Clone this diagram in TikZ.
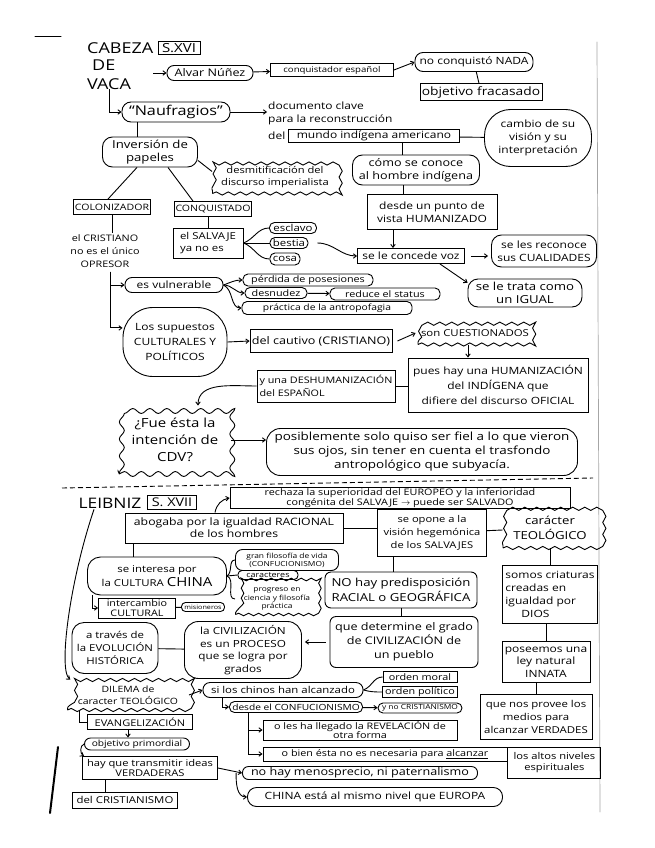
\documentclass[tikz,border=0pt]{standalone}
\usepackage{fontspec}
\setmainfont{Open Sans}[FakeStretch=1.2]
\usetikzlibrary{positioning,calc}
\usetikzlibrary{arrows.meta,decorations.pathmorphing}
\newcommand\hw[2]{\fontsize{#1}{#2}\selectfont}
\tikzset{
	box/.style={draw,rectangle,line width=0.9pt,inner sep=1pt,align=center,font=\hw{9}{11}},
	rbox/.style={box,rounded corners=6pt},
	wavy/.style={box,decorate,decoration={snake,amplitude=1.6pt,segment length=12pt}},
	txt/.style={inner sep=1pt,align=center,font=\hw{9}{11}},
	sz/.style n args={2}{minimum width=#1pt,minimum height=#2pt},
	link/.style={line width=0.9pt},
	arr/.style={link,-{Straight Barb[length=3pt,width=4.5pt]}},
	scan/.style={line cap=round},
}

\begin{document}
\begin{tikzpicture}[x=1pt,y=-1pt]
	\useasboundingbox[fill=white] (0,0) rectangle (655,848);
	% bordes de la hoja
	\draw[scan,line width=1pt] (35,37) -- (61,37);
	\draw[scan,gray!70,line width=0.7pt] (597,42) -- (600,812);
	\draw[scan,line width=2pt] (58,747) -- (50,813);

	% ---- Cabeza de Vaca ----
	\node[txt,font=\hw{15}{17},align=left,anchor=north west,inner sep=0pt] (cdv) at (87,42) {CABEZA\\\hspace*{5pt}DE\\[2pt]VACA};
	\node[box,font=\hw{12.5}{13},sz={42}{13}] (s16) at (179,48) {S.XVI};
	\node[rbox,font=\hw{10.5}{12},sz={86}{15},rounded corners=7pt] (alvar) at (210,73) {Alvar Núñez};
	\node[box,font=\hw{8}{9},sz={123}{13}] (conq) at (332,70) {conquistador español};
	\node[rbox,font=\hw{10}{12},sz={118}{19},rounded corners=8pt] (nada) at (474,62) {no conquistó NADA};
	\node[box,font=\hw{11.5}{13},sz={122}{17}] (fracaso) at (481,92) {objetivo fracasado};

	\node[rbox,font=\hw{13.5}{15},sz={108}{20},rounded corners=9pt] (nauf) at (176,112) {“Naufragios”};
	\node[txt,font=\hw{10}{12.5},align=left,anchor=north west] (doc) at (267,101) {documento clave\\para la reconstrucción};
	\node[txt,font=\hw{10}{12},anchor=west] (del) at (267,136) {del};
	\node[box,font=\hw{10}{11},sz={171}{13},anchor=west] (mundo) at (288,136) {mundo indígena americano};
	\node[rbox,font=\hw{10}{13},sz={107}{57},rounded corners=26pt] (cambio) at (538,138) {cambio de su\\visión y su\\interpretación};
	\node[rbox,font=\hw{10.5}{13},sz={127}{30},rounded corners=10pt] (conoce) at (416,170) {cómo se conoce\\al hombre indígena};
	\node[box,font=\hw{10}{13},sz={130}{35}] (humz) at (432,212) {desde un punto de\\vista HUMANIZADO};
	\node[box,font=\hw{10}{11},sz={107}{15}] (voz) at (411,256) {se le concede voz};
	\node[rbox,font=\hw{10}{12.5},sz={105}{32},rounded corners=10pt] (cualid) at (544,251) {se les reconoce\\sus CUALIDADES};
	\node[rbox,font=\hw{11}{12.5},sz={114}{28},rounded corners=10pt] (igual) at (525,293) {se le trata como\\un IGUAL};

	\node[rbox,font=\hw{11}{13},sz={95}{30},rounded corners=10pt] (invers) at (150,152) {Inversión de\\papeles};
	\node[wavy,font=\hw{9.3}{11.5},sz={125}{33}] (desmit) at (275,177) {desmitificación del\\discurso imperialista};
	\node[box,font=\hw{8.8}{9},sz={75}{15}] (colon) at (112,207) {COLONIZADOR};
	\node[box,font=\hw{8.8}{9},sz={77}{15}] (conqd) at (213,209) {CONQUISTADO};
	\node[txt,font=\hw{9}{13}] (cristiano) at (105,251) {el CRISTIANO\\no es el único\\OPRESOR};
	\node[box,align=left,font=\hw{9.5}{12},sz={70}{30}] (salv) at (208,243) {el SALVAJE\\ya no es};
	\node[rbox,font=\hw{9.5}{10},sz={47}{11},rounded corners=5pt] (esclavo) at (293,228) {esclavo};
	\node[rbox,font=\hw{9.5}{10},sz={38}{11},rounded corners=5pt] (bestia) at (289,243) {bestia};
	\node[rbox,font=\hw{9.5}{10},sz={30}{12},rounded corners=5pt] (cosa) at (285,259) {cosa};

	\node[rbox,font=\hw{10}{11},sz={98}{15},rounded corners=7pt] (vuln) at (174,285) {es vulnerable};
	\node[rbox,font=\hw{9}{10},sz={130}{12},rounded corners=5pt] (perdida) at (308,280) {pérdida de posesiones};
	\node[rbox,font=\hw{9}{10},sz={62}{11},rounded corners=5pt] (desnudez) at (276,293) {desnudez};
	\node[rbox,font=\hw{9}{10},sz={110}{12},rounded corners=5pt] (reduce) at (385,294) {reduce el status};
	\node[rbox,font=\hw{8.6}{10},sz={170}{13},rounded corners=5pt] (antrop) at (327,308) {práctica de la antropofagia};
	\node[rbox,font=\hw{10}{15},sz={104}{69},rounded corners=30pt] (sup) at (175,342) {Los supuestos\\CULTURALES Y\\POLÍTICOS};
	\node[box,font=\hw{10.5}{12},sz={142}{23}] (cautivo) at (321,341) {del cautivo (CRISTIANO)};
	\node[wavy,font=\hw{9.5}{11},sz={114}{23}] (cuest) at (475,333) {son CUESTIONADOS};
	\node[box,font=\hw{10}{15},sz={180}{54}] (humind) at (498,385) {pues hay una HUMANIZACIÓN\\del INDÍGENA que\\difiere del discurso OFICIAL};
	\node[box,align=left,font=\hw{9}{13},sz={138}{32}] (deshum) at (326,386) {y una DESHUMANIZACIÓN\\del ESPAÑOL};
	\node[wavy,font=\hw{12.5}{17},sz={112}{68},decoration={snake,amplitude=2.5pt,segment length=17pt}] (fue) at (175,440) {¿Fue ésta la\\intención de\\CDV?};
	\node[rbox,font=\hw{11.2}{14},sz={311}{47},rounded corners=14pt] (posib) at (422,452) {posiblemente solo quiso ser fiel a lo que vieron\\sus ojos, sin tener en cuenta el trasfondo\\antropológico que subyacía.};

	\draw[arr] (cdv.east |- alvar.west) -- (alvar.west);
	\draw[arr] (alvar) -- (conq);
	\draw[arr] (conq.east) -- (nada.west);
	\draw[link] (nada) -- (fracaso);
	\draw[arr] ([xshift=22pt]cdv.south west) |- (nauf.west);
	\draw[arr] (nauf.east) -- (doc.west |- nauf.east);
	\draw[link] (mundo) -- (cambio);
	\draw[link] ([xshift=28pt]mundo.south) -- ([xshift=28pt]mundo.south |- conoce.north);
	\draw[link] ([xshift=-13pt]conoce.south) -- ([xshift=-13pt]conoce.south |- humz.north);
	\draw[arr] ([xshift=-39pt]humz.south) -- ([xshift=-39pt]humz.south |- voz.north);
	\draw[arr] ([xshift=6pt]voz.east) -- ([xshift=-3pt]cualid.west |- voz.east);
	\draw[arr] ([xshift=-25pt]voz.south east) -- (igual.170);
	\draw[link] ([xshift=-13pt]invers.north) -- ([xshift=-13pt]invers.north |- nauf.south);
	\draw[link] (invers.-10) -- (desmit.175);
	\draw[link] ([xshift=-13pt]invers.south) -- ([xshift=-4pt]colon.north);
	\draw[link] ([xshift=18pt]invers.south) -- ([xshift=-20pt]conqd.north);
	\draw[link] (colon.south) -- (colon.south |- cristiano.north);
	\draw[link] ([xshift=-5pt]conqd.south) -- (salv.north);
	\draw[link] (salv.east) to[out=20,in=180] (esclavo.west);
	\draw[link] (salv.east) -- (bestia.west);
	\draw[link] (salv.east) to[out=-20,in=180] (cosa.west);
	\draw[arr] ([xshift=9pt]bestia.east) to[out=0,in=180] (voz.west);
	\coordinate (cr) at ([xshift=5pt,yshift=-3pt]cristiano.south);
	\draw[arr] (cr) |- (vuln.west);
	\draw[arr] (cr) |- (sup.165);
	\draw[arr] (vuln.east) to[out=20,in=180] (perdida.west);
	\draw[arr] (vuln.east) to[out=0,in=180] (desnudez.west);
	\draw[arr] (vuln.east) to[out=-25,in=180] (antrop.west);
	\draw[arr] (desnudez) -- (reduce);
	\draw[arr] (sup.east) -- (cautivo.west);
	\draw[arr] ([xshift=5pt]cautivo.east) -- ([xshift=-2pt]cuest.west);
	\draw[arr] ([xshift=-7pt]cuest.south) -- ([xshift=-7pt]cuest.south |- humind.north);
	\draw[link] (deshum.east) -- (humind.west |- deshum.east);
	\draw[arr] (deshum.west) to[out=180,in=90] ([xshift=23pt]fue.north);
	\draw[arr] (fue.east) -- (posib.west |- fue.east);

	\draw[link,dashed,dash pattern=on 5pt off 3pt] (62,488) -- (593,478);

	% ---- Leibniz ----
	\node[txt,font=\hw{14.5}{15}] (leib) at (110,503) {LEIBNIZ};
	\node[box,font=\hw{12}{13},sz={49}{14}] (s17) at (172,502) {S. XVII};
	\node[box,font=\hw{9}{10},sz={340}{20}] (rechaza) at (400,498) {rechaza la superioridad del EUROPEO y la inferioridad\\congénita del SALVAJE $\rightarrow$ puede ser SALVADO};
	\node[box,font=\hw{10.2}{12},sz={218}{30}] (abog) at (234,528) {abogaba por la igualdad RACIONAL\\de los hombres};
	\node[box,font=\hw{9.3}{13},sz={109}{47}] (opone) at (432,533) {se opone a la\\visión hegemónica\\de los SALVAJES};
	\node[wavy,font=\hw{11}{15},sz={94}{40}] (teol) at (550,528) {carácter\\TEOLÓGICO};
	\node[rbox,font=\hw{9.5}{14},sz={139}{38},rounded corners=13pt] (china) at (157,576) {se interesa por\\la CULTURA {\hw{12.5}{14}CHINA}};
	\node[rbox,font=\hw{7}{8},sz={103}{21},rounded corners=7pt] (filos) at (287,560) {gran filosofía de vida\\(CONFUCIONISMO)};
	\node[rbox,font=\hw{7.5}{8},sz={60}{9},rounded corners=4pt] (caract) at (268,575) {caracteres};
	\node[wavy,font=\hw{7}{8.5},sz={83}{31},decoration={snake,amplitude=1.3pt,segment length=10pt}] (progr) at (277,599) {progreso en\\ciencia y filosofía\\práctica};
	\node[box,font=\hw{9}{9.5},sz={77}{20}] (interc) at (137,608) {intercambio\\CULTURAL};
	\node[rbox,font=\hw{6}{7},sz={43}{9},rounded corners=4pt] (misio) at (203,607) {misioneros};
	\node[rbox,font=\hw{9.5}{13},sz={86}{51},rounded corners=12pt] (evol) at (115,648) {a través de\\la EVOLUCIÓN\\HISTÓRICA};
	\node[rbox,font=\hw{9.8}{12.5},sz={117}{57},rounded corners=14pt] (civil) at (243,650) {la CIVILIZACIÓN\\es un PROCESO\\que se logra por\\grados};
	\node[rbox,font=\hw{11}{15},sz={152}{36},rounded corners=6pt] (predisp) at (401,590) {NO hay predisposición\\RACIAL o GEOGRÁFICA};
	\node[rbox,font=\hw{10.5}{14},sz={148}{51},rounded corners=6pt] (determ) at (404,642) {que determine el grado\\de CIVILIZACIÓN de\\un pueblo};
	\node[box,font=\hw{10}{13},align=left,sz={95}{58}] (criat) at (550,594) {somos criaturas\\creadas en\\igualdad por\\\hspace*{16pt}DIOS};
	\node[box,font=\hw{10}{12.5},sz={88}{41}] (innata) at (546,662) {poseemos una\\ley natural\\INNATA};
	\node[box,font=\hw{9.5}{13},sz={112}{45}] (provee) at (536,717) {que nos provee los\\medios para\\alcanzar VERDADES};

	\node[wavy,font=\hw{8.7}{12},sz={121}{30}] (dilema) at (128,695) {DILEMA de\\caracter TEOLÓGICO};
	\node[rbox,font=\hw{9.5}{10},sz={160}{15},rounded corners=7pt] (chinos) at (283,690) {si los chinos han alcanzado};
	\node[box,font=\hw{9}{10},sz={74}{11}] (moral) at (420,677) {orden moral};
	\node[box,font=\hw{9}{10},sz={75}{11}] (polit) at (420,692) {orden político};
	\node[rbox,font=\hw{8.5}{9},sz={133}{11},rounded corners=5pt] (confu) at (296,707) {desde el CONFUCIONISMO};
	\node[rbox,font=\hw{7}{8},sz={84}{10},rounded corners=5pt] (nocrist) at (420,708) {y no CRISTIANISMO};
	\node[box,font=\hw{9}{9.5},sz={194}{20}] (revel) at (360,730) {o les ha llegado la REVELACIÓN de\\otra forma};
	\node[box,font=\hw{9}{10},sz={244}{14}] (obien) at (385,754) {o bien ésta no es necesaria para \underline{alcanzar}};
	\node[box,font=\hw{9.3}{11.5},sz={93}{31},anchor=north west] (altos) at (obien.north east) {los altos niveles\\espirituales};
	\node[box,font=\hw{9.2}{10},sz={105}{15}] (evang) at (140,722) {EVANGELIZACIÓN};
	\node[rbox,font=\hw{8.5}{9},sz={105}{12},rounded corners=6pt] (obj) at (137,744) {objetivo primordial};
	\node[box,font=\hw{9.3}{10.5},sz={135}{23}] (hay) at (150,768) {hay que transmitir ideas\\VERDADERAS};
	\node[box,font=\hw{9.5}{11},sz={105}{16}] (crist) at (125,800) {del CRISTIANISMO};
	\node[rbox,font=\hw{10.5}{11},sz={235}{13},rounded corners=6pt] (menos) at (360,773) {no hay menosprecio, ni paternalismo};
	\node[rbox,font=\hw{10}{12},sz={255}{19},rounded corners=9pt] (igeur) at (375,797) {CHINA está al mismo nivel que EUROPA};

	\draw[arr] ([xshift=-19pt]abog.north) to[out=80,in=190] (rechaza.west);
	\draw[link] (abog.east) -- (abog.east -| opone.west);
	\draw[link] (opone) -- (teol);
	\draw[link] ([xshift=-24pt]china.north) -- ([xshift=-24pt]china.north |- abog.south);
	\draw[link] (china.east) to[out=30,in=180] (filos.west);
	\draw[link] (china.east) -- (caract.west);
	\draw[link] (china.east) to[out=-20,in=180] (progr.west);
	\draw[arr] ([xshift=5pt]china.south west) |- (interc.west);
	\draw[link] (interc) -- (misio);
	\draw[link] (evol) -- (civil);
	\draw[arr] ([xshift=-4pt]determ.west) -- ([xshift=3pt]civil.east |- determ.west);
	\draw[link] ([xshift=-8pt]predisp.north) -- ([xshift=-8pt]predisp.north |- opone.south);
	\draw[link] (predisp.south) -- (predisp.south |- determ.north);
	\draw[link] (teol) -- (criat);
	\draw[link] (innata.north |- criat.south) -- (innata.north);
	\draw[link] (provee.north |- innata.south) -- (provee.north);
	\draw[arr] ([xshift=-16pt]leib.south) .. controls (70,580) and (58,670) .. (dilema.165);
	\draw[arr] (dilema.east) -- (chinos.west);
	\draw[link] (chinos.east) to[out=20,in=180] (moral.west);
	\draw[link] (chinos.east) to[out=-15,in=180] (polit.west);
	\draw[arr] ([xshift=-61pt]chinos.south) |- (confu.west);
	\draw[arr] (confu) -- (nocrist);
	\draw[arr] ([xshift=-48pt]confu.south) |- (revel.west);
	\draw[arr] ([xshift=-48pt]confu.south) |- (obien.west);
	\draw[link] ([xshift=12pt]dilema.south west) |- (evang.west);
	\draw[arr] ([xshift=-12pt]evang.south) -- ([xshift=-12pt]evang.south |- obj.north);
	\draw[arr] (obj.west) to[out=200,in=150] ([xshift=2pt]hay.north west);
	\draw[link] ([xshift=-20pt]crist.north) -- ([xshift=-20pt]crist.north |- hay.south);
	\draw[arr] (hay.east) -- (menos.west);
	\draw[arr] ([xshift=-6pt]menos.west) to[out=-90,in=180] (igeur.west);
\end{tikzpicture}
\end{document}
